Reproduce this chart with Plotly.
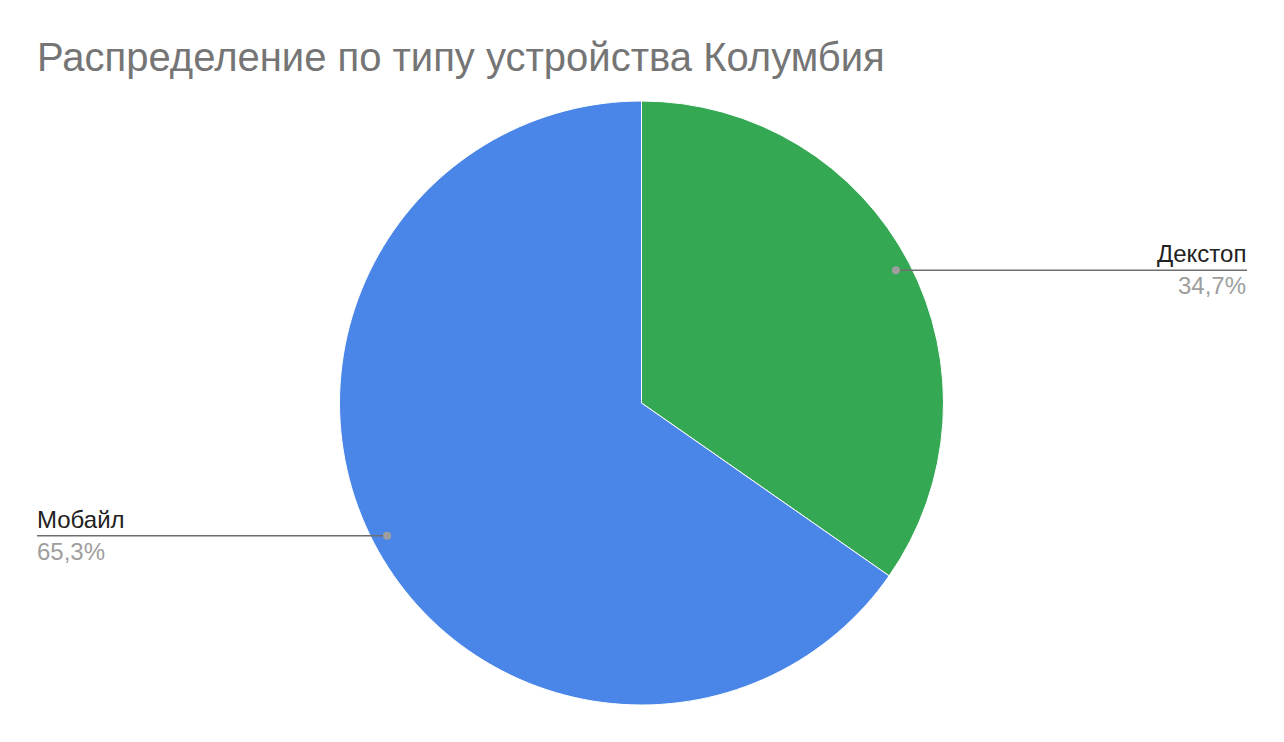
import math
import plotly.graph_objects as go

title = "Распределение по типу устройства Колумбия"
labels = ["Декстоп", "Мобайл"]
values = [34.7, 65.3]
colors = ["#34A853", "#4A86E8"]

W, H = 1284, 742
OFF = 8  # page body margin
cx, cy, R = 641.5, 403, 302


def px2x(x):
    return (x - OFF) / W


def px2y(y):
    return 1 - (y - OFF) / H


fig = go.Figure(go.Pie(
    labels=labels, values=values, sort=False, direction="clockwise", rotation=0,
    marker=dict(colors=colors, line=dict(color="white", width=1)),
    textinfo="none", hoverinfo="label+percent", showlegend=False,
    domain=dict(x=[px2x(cx - R), px2x(cx + R)], y=[px2y(cy + R), px2y(cy - R)]),
))

shapes = []
annotations = []
total = sum(values)
cum = 0
for lab, v in zip(labels, values):
    mid = (cum + v / 2) / total * 2 * math.pi
    cum += v
    r = R * 0.95
    px = cx + r * math.sin(mid)
    py = cy - r * math.cos(mid)
    right = math.sin(mid) >= 0
    ex = 1247 if right else 37
    tx = ex + 1 if right else ex - 2
    shapes.append(dict(type="line", xref="paper", yref="paper",
                       x0=px2x(px), x1=px2x(ex), y0=px2y(py), y1=px2y(py),
                       line=dict(color="#6F6F6F", width=1.5)))
    shapes.append(dict(type="circle", xref="paper", yref="paper",
                       x0=px2x(px - 4), x1=px2x(px + 4), y0=px2y(py + 4), y1=px2y(py - 4),
                       fillcolor="#9E9E9E", line=dict(width=0)))
    anchor = "right" if right else "left"
    annotations.append(dict(x=px2x(tx), y=px2y(py - 1), xref="paper", yref="paper",
                            text=lab, showarrow=False, xanchor=anchor, yanchor="bottom",
                            font=dict(family="Liberation Sans, Arial", size=24, color="#222222")))
    pct = f"{v:.1f}%".replace(".", ",")
    annotations.append(dict(x=px2x(tx), y=px2y(py), xref="paper", yref="paper",
                            text=pct, showarrow=False, xanchor=anchor, yanchor="top",
                            font=dict(family="Liberation Sans, Arial", size=24, color="#9E9E9E")))

fig.update_layout(
    width=W, height=H, margin=dict(l=0, r=0, t=0, b=0),
    paper_bgcolor="white", plot_bgcolor="white",
    title=dict(text=title, x=px2x(37), xanchor="left", y=px2y(57), yanchor="middle",
               font=dict(family="Liberation Sans, Arial", size=40, color="#757575")),
    shapes=shapes, annotations=annotations,
)
fig.write_html("out.html")
